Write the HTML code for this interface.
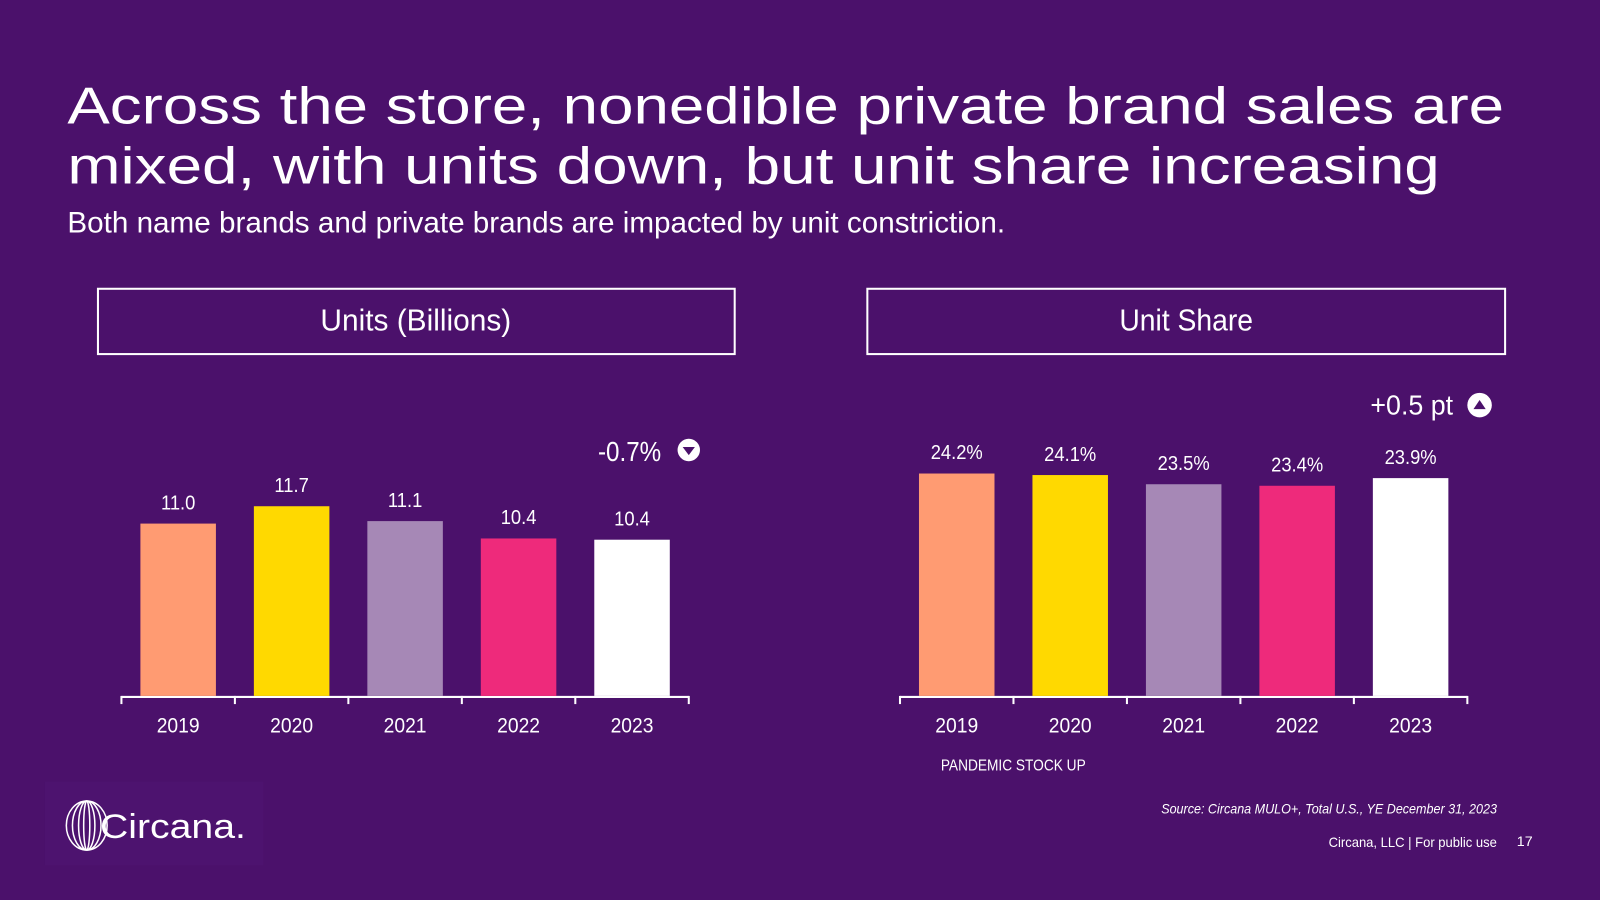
<!DOCTYPE html>
<html><head><meta charset="utf-8"><style>
html,body{margin:0;padding:0;background:#4b116b;}
svg{display:block;}
.t{font-family:"Liberation Sans",sans-serif;fill:#fff;}
.n{font-family:"Liberation Sans",sans-serif;fill:#fff;}
</style></head><body>
<svg id="s" width="1600" height="900" viewBox="0 0 1568 882" xmlns="http://www.w3.org/2000/svg">
<rect width="1568" height="882" fill="#4b116b"/>
<text class="t" x="66" y="121" font-size="51" textLength="1408" lengthAdjust="spacingAndGlyphs">Across the store, nonedible private brand sales are</text>
<text class="t" x="66" y="180" font-size="51" textLength="1345" lengthAdjust="spacingAndGlyphs">mixed, with units down, but unit share increasing</text>
<text class="n" x="66" y="228" font-size="29" textLength="919" lengthAdjust="spacingAndGlyphs">Both name brands and private brands are impacted by unit constriction.</text>
<rect x="96" y="283" width="624" height="64" fill="none" stroke="#fff" stroke-width="2"/>
<text class="n" x="314" y="324" font-size="30" textLength="187" lengthAdjust="spacingAndGlyphs">Units (Billions)</text>
<rect x="850" y="283" width="625" height="64" fill="none" stroke="#fff" stroke-width="2"/>
<text class="n" x="1097" y="324" font-size="30" textLength="131" lengthAdjust="spacingAndGlyphs">Unit Share</text>
<text class="n" x="586" y="452" font-size="27" textLength="62" lengthAdjust="spacingAndGlyphs">-0.7%</text>
<circle cx="675" cy="441" r="11" fill="#fff"/>
<path d="M669 438 L681 438 L675 446 Z" fill="#4b116b"/>
<text class="n" x="1343" y="406" font-size="27" textLength="81" lengthAdjust="spacingAndGlyphs">+0.5 pt</text>
<circle cx="1450" cy="397" r="12" fill="#fff"/>
<path d="M1444 401 L1456 401 L1450 392 Z" fill="#4b116b"/>
<text class="n" x="922" y="755" font-size="15" textLength="142" lengthAdjust="spacingAndGlyphs">PANDEMIC STOCK UP</text>
<text class="n" x="1138" y="797" font-size="14" font-style="italic" textLength="329" lengthAdjust="spacingAndGlyphs">Source: Circana MULO+, Total U.S., YE December 31, 2023</text>
<text class="n" x="1302" y="830" font-size="14" textLength="165" lengthAdjust="spacingAndGlyphs">Circana, LLC |  For public use</text>
<text class="n" x="1502" y="829" font-size="14" text-anchor="end">17</text>
<rect x="44" y="766" width="214" height="82" fill="#4d136f"/>
<g fill="none" stroke="#fff" stroke-width="1.5">
<ellipse cx="85" cy="809" rx="20" ry="24"/><ellipse cx="85" cy="809" rx="14" ry="24"/><ellipse cx="85" cy="809" rx="8" ry="24"/><ellipse cx="85" cy="809" rx="3" ry="24"/>
</g>
<text class="t" x="98" y="821" font-size="34" textLength="143" lengthAdjust="spacingAndGlyphs">Circana.</text>
<g id="c1"></g><g id="c2"></g>
</svg>
<script>
const years=["2019","2020","2021","2022","2023"];
const units=[11.0,11.7,11.1,10.4,10.35];
const unitLabels=["11.0","11.7","11.1","10.4","10.4"];
const share=[24.2,24.1,23.5,23.4,23.9];
const shareLabels=["24.2%","24.1%","23.5%","23.4%","23.9%"];
const colors=["#ff9b72","#ffd900","#a688b6","#ee2a7b","#ffffff"];
const NS="http://www.w3.org/2000/svg";
function el(p,tag,a){const e=document.createElementNS(NS,tag);for(const k in a)e.setAttribute(k,a[k]);p.appendChild(e);return e;}
function draw(g,vals,labels,x0,step,vmin,pxPer,prefix){
  const base=682;
  const y=v=>base-(v-vmin)*pxPer;
  const ax=el(g,"line",{x1:x0,x2:x0+step*vals.length,y1:base+1,y2:base+1,stroke:"#fff","stroke-width":2});
  
  
  for(let i=0;i<=vals.length;i++){el(g,"line",{x1:x0+i*step,x2:x0+i*step,y1:base,y2:base+8,stroke:"#fff","stroke-width":2});}
  vals.forEach((v,i)=>{
    const cx=x0+step*(i+0.5);
    const r=el(g,"rect",{x:cx-37,y:y(v),width:74,height:base-y(v),fill:colors[i]});
    
    
    const t=el(g,"text",{x:cx,y:y(v)-14,"font-size":20,"text-anchor":"middle",class:"n",transform:`translate(${cx} 0) scale(0.9 1) translate(${-cx} 0)`});
    t.textContent=labels[i];
    
    
    const c=el(g,"text",{x:cx,y:718,"font-size":21,"text-anchor":"middle",class:"n",transform:`translate(${cx} 0) scale(0.9 1) translate(${-cx} 0)`});
    c.textContent=years[i];
    
    
  });
}
draw(document.getElementById("c1"),units,unitLabels,119,111.2,4.05,24.3,"units");
draw(document.getElementById("c2"),share,shareLabels,882,111.2,9.67,15,"share");
</script>
</body></html>
